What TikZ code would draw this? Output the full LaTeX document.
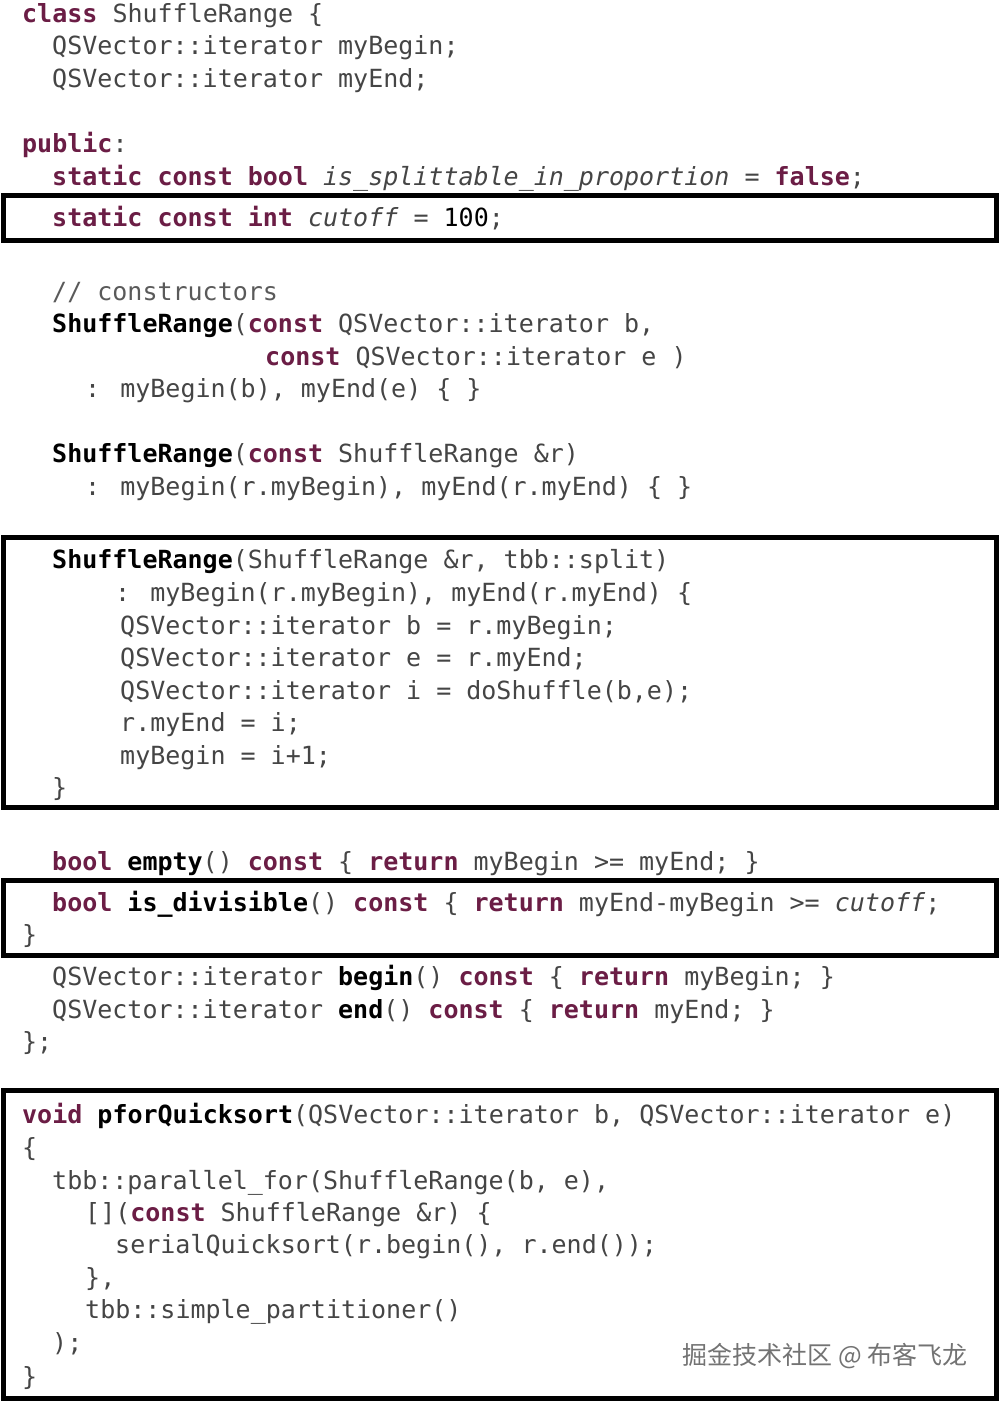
\documentclass[tikz,border=0pt]{standalone}
\usepackage{fontspec}
\newfontfamily\code{DejaVu Sans Mono}
\newfontfamily\cjk{Noto Sans CJK SC}
\definecolor{kwc}{HTML}{6B1D45}
\definecolor{txt}{HTML}{454545}
\definecolor{cmt}{HTML}{5A5A5A}
\newcommand\kw[1]{\textbf{\color{kwc}#1}}
\newcommand\fn[1]{\textbf{\color{black}#1}}
\newcommand\iv[1]{\textit{#1}}
\newcommand\nm[1]{{\color{black}#1}}
\newcommand\codeln[4]{\node[ln] (#1) at (#2,#3+9) {#4};}
\begin{document}
\begin{tikzpicture}[x=1pt,y=-1pt,
  ln/.style={anchor=base west,inner sep=0pt,font=\code\fontsize{25}{30}\selectfont,text=txt},
  hbox/.style={draw=black,line width=5pt}]
\useasboundingbox (0,0) rectangle (999,1402);
\fill[white] (0,0) rectangle (999,1402);
\draw[hbox] (3,195) rectangle (996,240);
\draw[hbox] (3,537) rectangle (996,807);
\draw[hbox] (3,880) rectangle (996,955);
\draw[hbox] (3,1090) rectangle (996,1398);
\codeln{l1}{22}{14}{\kw{class} ShuffleRange \{}
\codeln{l2}{52}{46}{QSVector::iterator myBegin;}
\codeln{l3}{52}{79}{QSVector::iterator myEnd;}
\codeln{l5}{22}{143}{\kw{public}:}
\codeln{l6}{52}{176}{\kw{static} \kw{const} \kw{bool} \iv{is\_splittable\_in\_proportion} = \kw{false};}
\codeln{l7}{52}{217}{\kw{static} \kw{const} \kw{int} \iv{cutoff} = \nm{100};}
\codeln{l8}{52}{291}{{\color{cmt}// constructors}}
\codeln{l9}{52}{323}{\fn{ShuffleRange}(\kw{const} QSVector::iterator b,}
\codeln{l10}{265}{356}{\kw{const} QSVector::iterator e )}
\codeln{l11}{85}{388}{: myBegin(b), myEnd(e) \{ \}}
\codeln{l12}{52}{453}{\fn{ShuffleRange}(\kw{const} ShuffleRange \&r)}
\codeln{l13}{85}{486}{: myBegin(r.myBegin), myEnd(r.myEnd) \{ \}}
\codeln{l14}{52}{559}{\fn{ShuffleRange}(ShuffleRange \&r, tbb::split)}
\codeln{l15}{115}{592}{: myBegin(r.myBegin), myEnd(r.myEnd) \{}
\codeln{l16}{120}{625}{QSVector::iterator b = r.myBegin;}
\codeln{l17}{120}{657}{QSVector::iterator e = r.myEnd;}
\codeln{l18}{120}{690}{QSVector::iterator i = doShuffle(b,e);}
\codeln{l19}{120}{722}{r.myEnd = i;}
\codeln{l20}{120}{755}{myBegin = i+1;}
\codeln{l21}{52}{787}{\}}
\codeln{l22}{52}{861}{\kw{bool} \fn{empty}() \kw{const} \{ \kw{return} myBegin >= myEnd; \}}
\codeln{l23}{52}{902}{\kw{bool} \fn{is\_divisible}() \kw{const} \{ \kw{return} myEnd-myBegin >= \iv{cutoff};}
\codeln{l24}{22}{934}{\}}
\codeln{l25}{52}{976}{QSVector::iterator \fn{begin}() \kw{const} \{ \kw{return} myBegin; \}}
\codeln{l26}{52}{1009}{QSVector::iterator \fn{end}() \kw{const} \{ \kw{return} myEnd; \}}
\codeln{l27}{22}{1041}{\};}
\codeln{l28}{22}{1114}{\kw{void} \fn{pforQuicksort}(QSVector::iterator b, QSVector::iterator e)}
\codeln{l29}{22}{1147}{\{}
\codeln{l30}{52}{1180}{tbb::parallel\_for(ShuffleRange(b, e),}
\codeln{l31}{85}{1212}{[](\kw{const} ShuffleRange \&r) \{}
\codeln{l32}{115}{1244}{serialQuicksort(r.begin(), r.end());}
\codeln{l33}{85}{1277}{\},}
\codeln{l34}{85}{1309}{tbb::simple\_partitioner()}
\codeln{l35}{52}{1342}{);}
\codeln{l36}{22}{1376}{\}}
\node[anchor=east,inner sep=0pt,font=\cjk\fontsize{25}{30}\selectfont,text=black!55] (wm) at (968,1356) {掘金技术社区 @ 布客飞龙};
\end{tikzpicture}
\end{document}
